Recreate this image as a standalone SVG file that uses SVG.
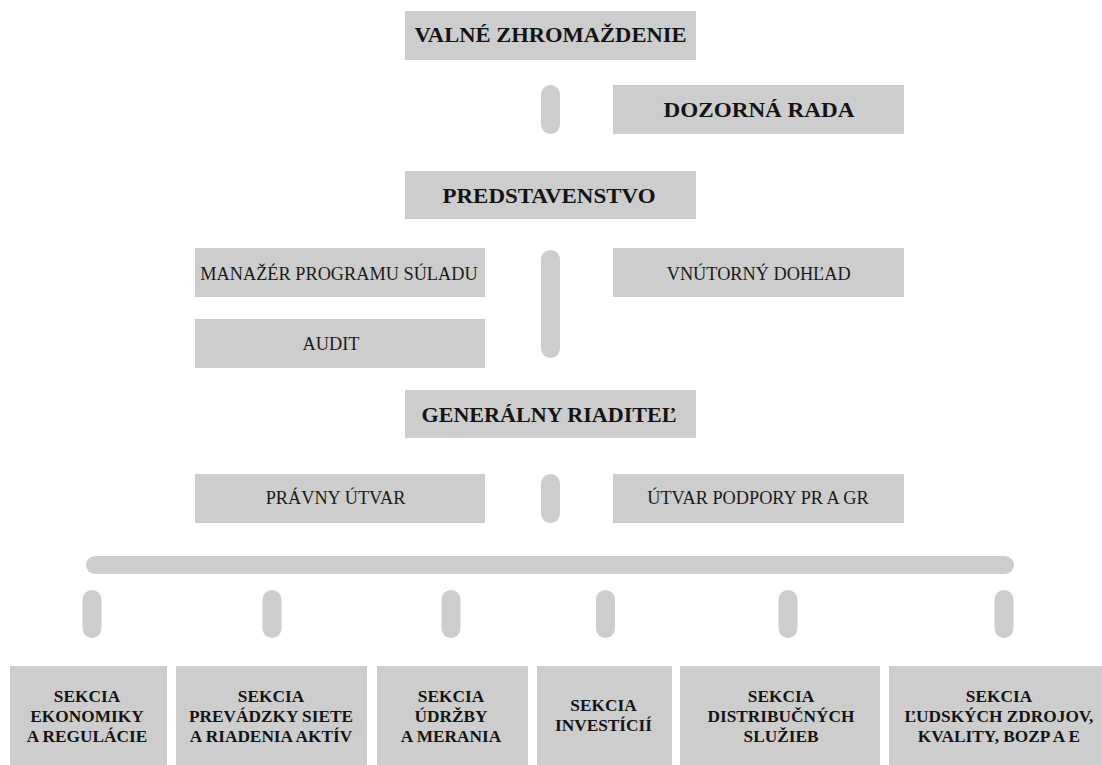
<svg xmlns="http://www.w3.org/2000/svg" width="1102" height="765" viewBox="0 0 1102 765">
<style>
.box{fill:#cdcdcd}
.pill{fill:#cdcdcd}
.h{font-family:"Liberation Serif","Times New Roman",serif;font-weight:bold;font-size:21px;fill:#141414;text-anchor:middle}
.r{font-family:"Liberation Serif","Times New Roman",serif;font-size:18.3px;fill:#1a1a1a;text-anchor:middle}
.s{font-family:"Liberation Serif","Times New Roman",serif;font-weight:bold;font-size:17.3px;fill:#141414;text-anchor:middle}
</style>
<rect width="1102" height="765" fill="#ffffff"/>
<g id="connectors">
<rect class="pill" x="541" y="85" width="19" height="49" rx="9.5"/>
<rect class="pill" x="541" y="250" width="19" height="108" rx="9.5"/>
<rect class="pill" x="541" y="474" width="19" height="49" rx="9.5"/>
<rect class="pill" x="86" y="556" width="928" height="18" rx="9"/>
<rect class="pill" x="82.5" y="590" width="19" height="48" rx="9.5"/>
<rect class="pill" x="262.5" y="590" width="19" height="48" rx="9.5"/>
<rect class="pill" x="441.5" y="590" width="19" height="48" rx="9.5"/>
<rect class="pill" x="596" y="590" width="19" height="48" rx="9.5"/>
<rect class="pill" x="778.5" y="590" width="19" height="48" rx="9.5"/>
<rect class="pill" x="994.5" y="590" width="19" height="48" rx="9.5"/>
</g>
<g id="valne-zhromazdenie">
<rect class="box" x="405" y="11" width="291" height="49"/>
<text class="h" x="550.5" y="42.3" textLength="272" lengthAdjust="spacingAndGlyphs">VALNÉ ZHROMAŽDENIE</text>
</g>
<g id="dozorna-rada">
<rect class="box" x="613" y="85" width="291" height="49"/>
<text class="h" x="759" y="117.3" textLength="191" lengthAdjust="spacingAndGlyphs">DOZORNÁ RADA</text>
</g>
<g id="predstavenstvo">
<rect class="box" x="405" y="171" width="291" height="48"/>
<text class="h" x="549" y="202.7" textLength="213" lengthAdjust="spacingAndGlyphs">PREDSTAVENSTVO</text>
</g>
<g id="manazer-programu-suladu">
<rect class="box" x="195" y="248" width="290" height="49"/>
<text class="r" x="339" y="280.3">MANAŽÉR PROGRAMU SÚLADU</text>
</g>
<g id="vnutorny-dohlad">
<rect class="box" x="613" y="248" width="291" height="49"/>
<text class="r" x="758.7" y="280.3">VNÚTORNÝ DOHĽAD</text>
</g>
<g id="audit">
<rect class="box" x="195" y="319" width="290" height="49"/>
<text class="r" x="331" y="350">AUDIT</text>
</g>
<g id="generalny-riaditel">
<rect class="box" x="405" y="390" width="291" height="48"/>
<text class="h" x="549" y="421.7" textLength="255" lengthAdjust="spacingAndGlyphs">GENERÁLNY RIADITEĽ</text>
</g>
<g id="pravny-utvar">
<rect class="box" x="195" y="474" width="290" height="49"/>
<text class="r" x="335.5" y="504">PRÁVNY ÚTVAR</text>
</g>
<g id="utvar-podpory">
<rect class="box" x="613" y="474" width="291" height="49"/>
<text class="r" x="758" y="504">ÚTVAR PODPORY PR A GR</text>
</g>
<g id="sekcia-ekonomiky">
<rect class="box" x="10" y="666" width="157" height="110"/>
<text class="s" x="87" y="701.5">SEKCIA</text>
<text class="s" x="87" y="721.5">EKONOMIKY</text>
<text class="s" x="87" y="741.5">A REGULÁCIE</text>
</g>
<g id="sekcia-prevadzky">
<rect class="box" x="176" y="666" width="191" height="110"/>
<text class="s" x="271" y="701.5">SEKCIA</text>
<text class="s" x="271" y="721.5">PREVÁDZKY SIETE</text>
<text class="s" x="271" y="741.5">A RIADENIA AKTÍV</text>
</g>
<g id="sekcia-udrzby">
<rect class="box" x="377" y="666" width="151" height="110"/>
<text class="s" x="451" y="701.5">SEKCIA</text>
<text class="s" x="451" y="721.5">ÚDRŽBY</text>
<text class="s" x="451" y="741.5">A MERANIA</text>
</g>
<g id="sekcia-investicii">
<rect class="box" x="537" y="666" width="135" height="110"/>
<text class="s" x="603.5" y="711">SEKCIA</text>
<text class="s" x="603.5" y="731">INVESTÍCIÍ</text>
</g>
<g id="sekcia-distribucnych">
<rect class="box" x="680" y="666" width="200" height="110"/>
<text class="s" x="781" y="701.5">SEKCIA</text>
<text class="s" x="781" y="721.5">DISTRIBUČNÝCH</text>
<text class="s" x="781" y="741.5">SLUŽIEB</text>
</g>
<g id="sekcia-ludskych-zdrojov">
<rect class="box" x="889" y="666" width="220" height="110"/>
<text class="s" x="999" y="701.5">SEKCIA</text>
<text class="s" x="999" y="721.5">ĽUDSKÝCH ZDROJOV,</text>
<text class="s" x="999" y="741.5">KVALITY, BOZP A E</text>
</g>
</svg>
